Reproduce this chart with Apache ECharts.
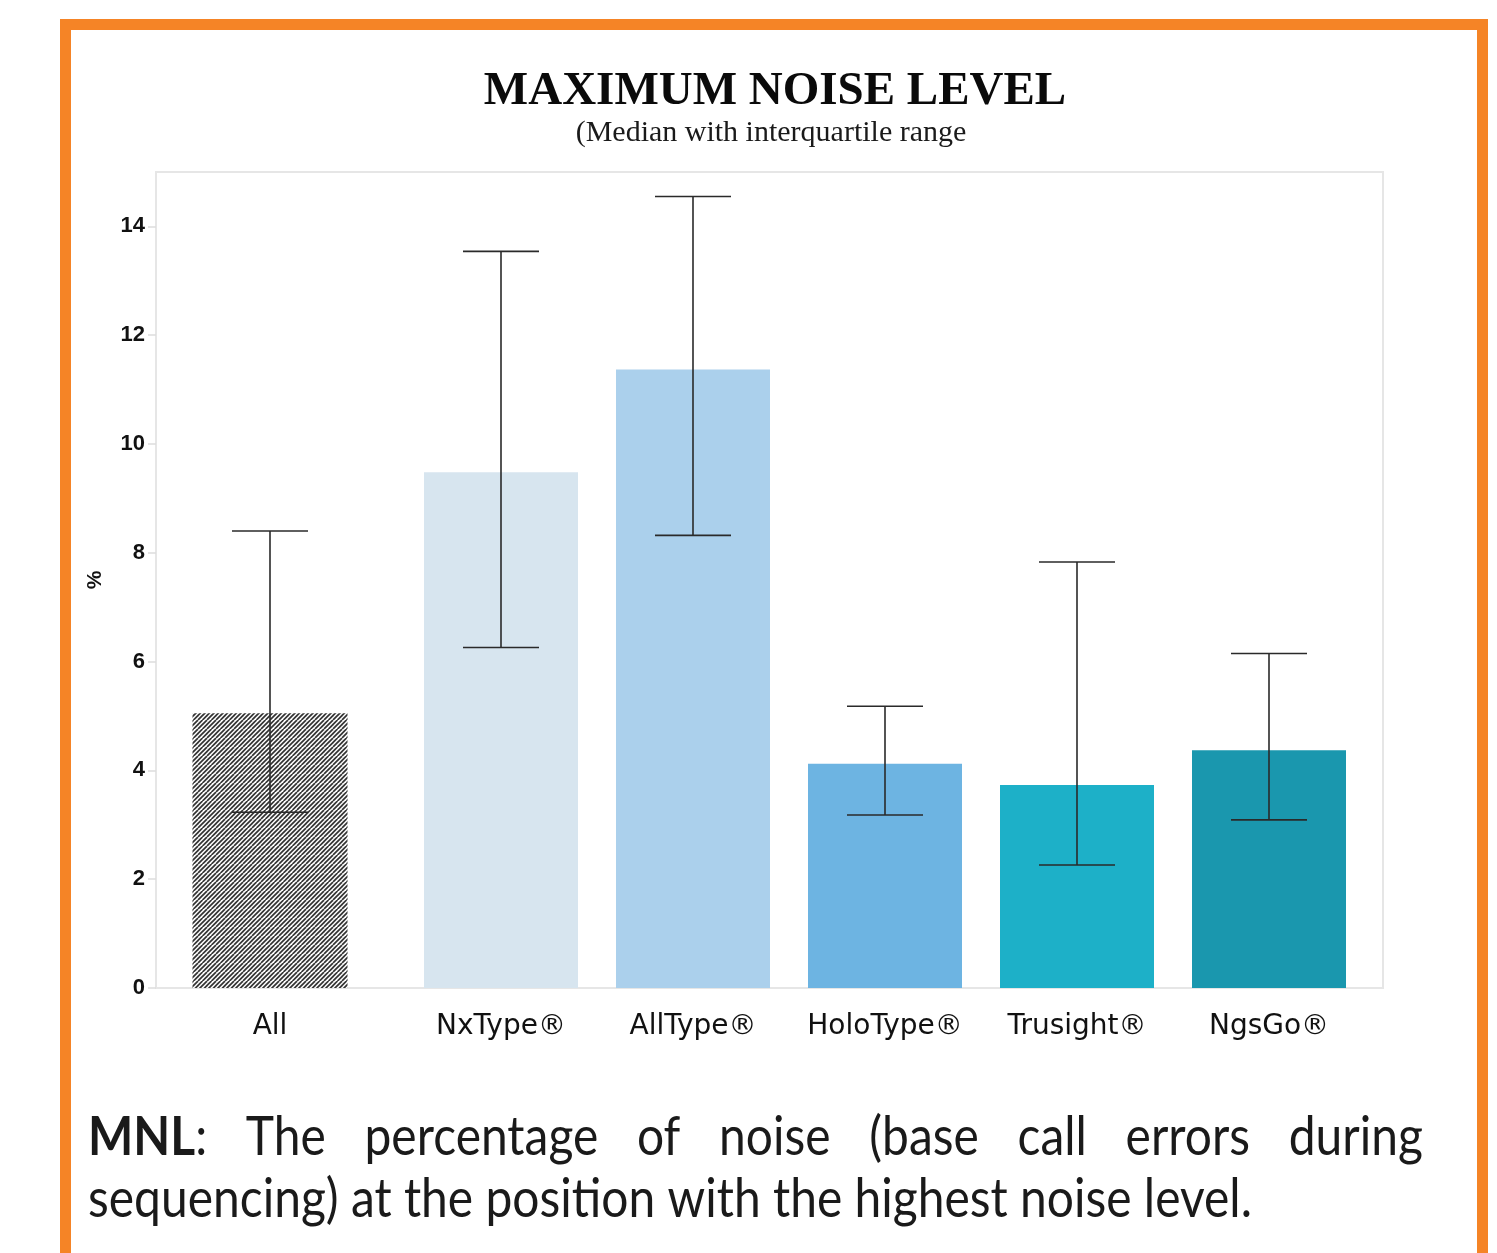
<!DOCTYPE html>
<html>
<head>
<meta charset="utf-8">
<script src="https://cdn.jsdelivr.net/npm/echarts@6/dist/echarts.min.js"></script>
<style>
  html, body { margin: 0; padding: 0; background: #fff; }
  #chart { width: 1497px; height: 1253px; }
</style>
</head>
<body>
<div id="chart"></div>
<script>
// ---- data ----
const allCategory = ['All'];
const allMedian = [5.05];
const allQ1 = [3.23];
const allQ3 = [8.40];

const kitCategories = ['NxType®', 'AllType®', 'HoloType®', 'Trusight®', 'NgsGo®'];
const kitMedian = [9.48, 11.37, 4.12, 3.73, 4.37];
const kitQ1 = [6.26, 8.32, 3.18, 2.26, 3.09];
const kitQ3 = [13.54, 14.55, 5.18, 7.83, 6.15];

const yTicks = [0, 2, 4, 6, 8, 10, 12, 14];

const titleText = 'MAXIMUM NOISE LEVEL';
const subtitleText = '(Median with interquartile range';
const noteBold = 'MNL';
const noteLine1 = ': The percentage of noise (base call errors during';
const noteLine2 = 'sequencing) at the position with the highest noise level.';

// ---- styles ----
const kitColors = ['#d7e5ef', '#abd0ec', '#6db4e2', '#1db0c8', '#1a97ae'];
const errColor = '#2a2a2a';

// hatch pattern for "All"
const pc = document.createElement('canvas');
pc.width = 9; pc.height = 9;
const pctx = pc.getContext('2d');
pctx.fillStyle = '#ffffff';
pctx.fillRect(0, 0, 9, 9);
pctx.strokeStyle = '#333333';
pctx.lineWidth = 1.7;
for (let k = -9; k <= 18; k += 4.5) {
  pctx.beginPath();
  pctx.moveTo(k, 9);
  pctx.lineTo(k + 9, 0);
  pctx.stroke();
}

const chart = echarts.init(document.getElementById('chart'), null, { renderer: 'canvas' });

function errorBarItem(params, api) {
  const x = api.value(0);
  const lo = api.value(1);
  const hi = api.value(2);
  const pHi = api.coord([x, hi]);
  const pLo = api.coord([x, lo]);
  const half = 38;
  const style = { stroke: errColor, lineWidth: 1.6 };
  return {
    type: 'group',
    children: [
      { type: 'line', shape: { x1: pHi[0], y1: pHi[1], x2: pLo[0], y2: pLo[1] }, style },
      { type: 'line', shape: { x1: pHi[0] - half, y1: pHi[1], x2: pHi[0] + half, y2: pHi[1] }, style },
      { type: 'line', shape: { x1: pLo[0] - half, y1: pLo[1], x2: pLo[0] + half, y2: pLo[1] }, style }
    ]
  };
}

// ---- justified, horizontally condensed note text ----
const noteFontFamily = 'Lato, "Open Sans", sans-serif';
const noteSize = 54;
const mctx = document.createElement('canvas').getContext('2d');
function measure(text, weight) {
  mctx.font = (weight || 'normal') + ' ' + noteSize + 'px ' + noteFontFamily;
  return mctx.measureText(text).width;
}
const noteLeft = 88, noteRight = 1423, line2Target = 1164;
const sx = line2Target / measure(noteLine2);
const words1 = noteLine1.trim().split(' ');
const w0 = (measure(noteBold, 'bold') + measure(words1[0])) * sx;
const restWords = words1.slice(1);
const restWidths = restWords.map(w => measure(w) * sx);
const totalWords = w0 + restWidths.reduce((a, b) => a + b, 0);
const gap = (noteRight - noteLeft - totalWords) / restWords.length;
const line1Y = 1138, line2Y = 1200;
const noteColor = '#1a1a1a';
const noteGraphics = [];
noteGraphics.push({
  type: 'text', x: noteLeft, y: line1Y, scaleX: sx,
  style: {
    x: 0, y: 0, verticalAlign: 'middle', align: 'left',
    text: '{b|' + noteBold + '}{n|' + words1[0] + '}',
    rich: {
      b: { fontFamily: noteFontFamily, fontSize: noteSize, fontWeight: 'bold', fill: noteColor },
      n: { fontFamily: noteFontFamily, fontSize: noteSize, fill: noteColor }
    }
  }
});
let cx = noteLeft + w0 + gap;
restWords.forEach((w, i) => {
  noteGraphics.push({
    type: 'text', x: cx, y: line1Y, scaleX: sx,
    style: { x: 0, y: 0, verticalAlign: 'middle', align: 'left', text: w, fontFamily: noteFontFamily, fontSize: noteSize, fill: noteColor }
  });
  cx += restWidths[i] + gap;
});
noteGraphics.push({
  type: 'text', x: noteLeft, y: line2Y, scaleX: sx,
  style: { x: 0, y: 0, verticalAlign: 'middle', align: 'left', text: noteLine2, fontFamily: noteFontFamily, fontSize: noteSize, fill: noteColor }
});

const yAxisCommon = {
  type: 'value', min: 0, max: 15, interval: 2,
  splitLine: { show: false },
  axisLine: { show: false }
};
const xAxisCommon = {
  type: 'category',
  axisLine: { show: false },
  axisTick: { show: false },
  axisLabel: { interval: 0, hideOverlap: false, fontFamily: '"DejaVu Sans", Verdana, sans-serif', fontSize: 28, color: '#111', margin: 25 }
};

const option = {
  backgroundColor: '#ffffff',
  animation: false,
  title: [
    {
      text: titleText, left: 770, top: 63, textAlign: 'center',
      textStyle: { fontFamily: '"Liberation Serif", "Times New Roman", serif', fontWeight: 'bold', fontSize: 47, color: '#0a0a0a' }
    },
    {
      text: subtitleText, left: 766, top: 113, textAlign: 'center',
      textStyle: { fontFamily: '"Liberation Serif", "Times New Roman", serif', fontWeight: 'normal', fontSize: 30, color: '#1a1a1a' }
    }
  ],
  grid: [
    { left: 156, top: 172, width: 228, bottom: 265 },
    { left: 405, top: 172, width: 960, bottom: 265 }
  ],
  xAxis: [
    Object.assign({}, xAxisCommon, { gridIndex: 0, data: allCategory }),
    Object.assign({}, xAxisCommon, { gridIndex: 1, data: kitCategories })
  ],
  yAxis: [
    Object.assign({}, yAxisCommon, {
      gridIndex: 0,
      name: '%', nameLocation: 'middle', nameGap: 50,
      nameTextStyle: { fontFamily: '"Liberation Sans", Arial, sans-serif', fontWeight: 'bold', fontSize: 21, color: '#111' },
      axisTick: { show: true, length: 8, lineStyle: { color: '#dddddd', width: 1.5 }, customValues: yTicks },
      axisLabel: {
        fontFamily: '"Liberation Sans", Arial, sans-serif', fontWeight: 'bold', fontSize: 22, color: '#111', margin: 11,
        customValues: yTicks
      }
    }),
    Object.assign({}, yAxisCommon, {
      gridIndex: 1,
      axisTick: { show: false },
      axisLabel: { show: false }
    })
  ],
  graphic: [
    {
      type: 'rect', z: -1,
      shape: { x: 156, y: 172, width: 1227, height: 816 },
      style: { fill: 'none', stroke: '#e6e6e6', lineWidth: 2 }
    },
    {
      type: 'rect',
      shape: { x: 65.5, y: 24.5, width: 1417, height: 1320 },
      style: { fill: 'none', stroke: '#f58426', lineWidth: 11 }
    }
  ].concat(noteGraphics),
  series: [
    {
      type: 'bar', xAxisIndex: 0, yAxisIndex: 0, data: allMedian, barWidth: 155,
      itemStyle: { color: { image: pc, repeat: 'repeat' } }
    },
    {
      type: 'bar', xAxisIndex: 1, yAxisIndex: 1, data: kitMedian, barWidth: 154,
      itemStyle: { color: p => kitColors[p.dataIndex] }
    },
    {
      type: 'custom', xAxisIndex: 0, yAxisIndex: 0, z: 5,
      encode: { x: 0, y: [1, 2] },
      data: allCategory.map((c, i) => [i, allQ1[i], allQ3[i]]),
      renderItem: errorBarItem
    },
    {
      type: 'custom', xAxisIndex: 1, yAxisIndex: 1, z: 5,
      encode: { x: 0, y: [1, 2] },
      data: kitCategories.map((c, i) => [i, kitQ1[i], kitQ3[i]]),
      renderItem: errorBarItem
    }
  ]
};
chart.setOption(option);
</script>
</body>
</html>
